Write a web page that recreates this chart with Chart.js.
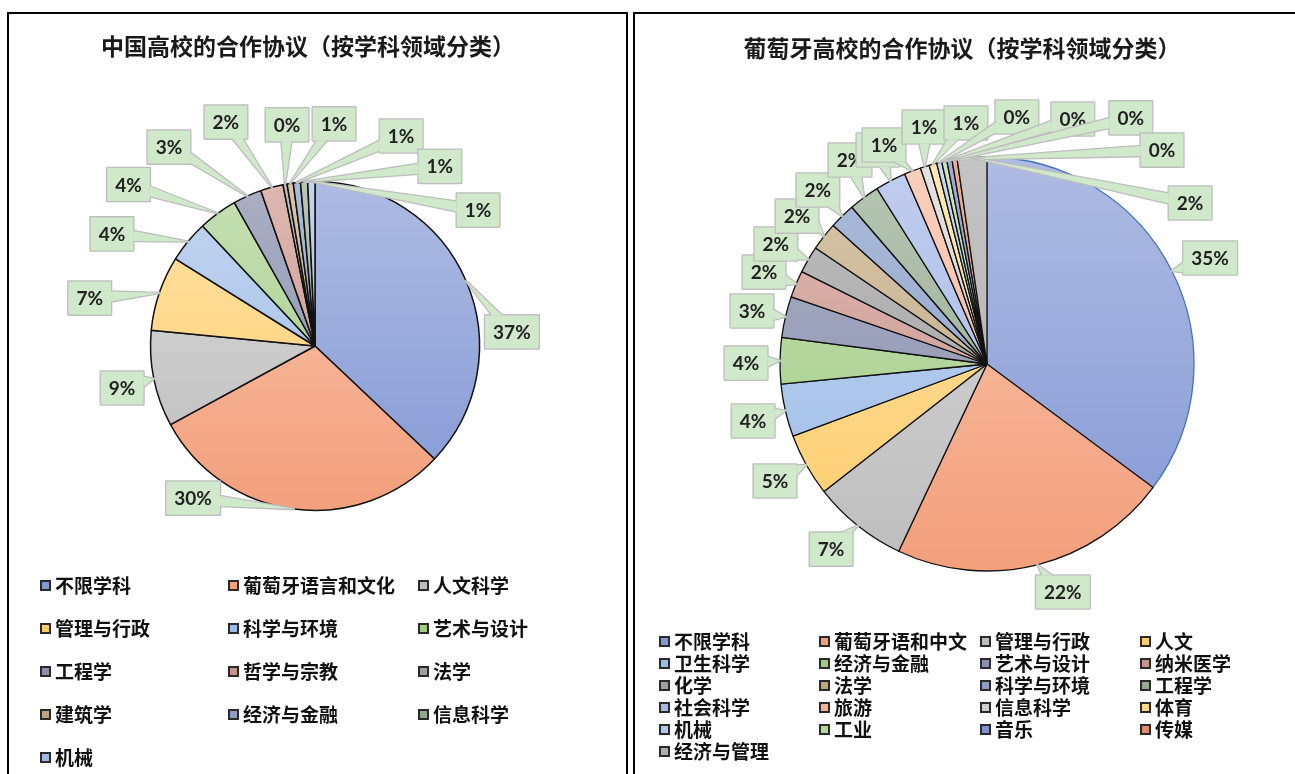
<!DOCTYPE html>
<html><head><meta charset="utf-8">
<script src="https://cdn.jsdelivr.net/npm/chart.js@4.4.1/dist/chart.umd.min.js"></script>
<style>
html,body{margin:0;padding:0;background:#fff;width:1295px;height:774px;overflow:hidden;position:relative;}
.panel{position:absolute;border:2.5px solid #000;box-sizing:border-box;background:#fff;}
.title{position:absolute;white-space:nowrap;font-family:"Noto Sans CJK SC";font-weight:700;font-size:23px;color:#1a1a1a;transform:translate(-50%,-50%);}
.li{position:absolute;white-space:nowrap;display:flex;align-items:center;transform:translateY(-50%);font-family:"Noto Sans CJK SC";font-weight:700;font-size:19px;color:#111;line-height:22px;}
.sw{width:7px;height:7px;border:2px solid #2a2a2a;margin-right:4px;flex:none;}
canvas{position:absolute;}
</style></head><body>
<div class="panel" style="left:7px;top:12px;width:621px;height:800px"></div>
<div class="panel" style="left:633px;top:12px;width:700px;height:800px"></div>
<canvas id="c1" width="616" height="759" style="left:10px;top:15px"></canvas>
<canvas id="c2" width="659" height="759" style="left:636px;top:15px"></canvas>
<div class="title" id="t1" style="left:308px;top:45px"></div>
<div class="title" id="t2" style="left:962px;top:47px"></div>
<div id="leg1"></div><div id="leg2"></div>
<script>
// ---------- data ----------
const cnTitle = '中国高校的合作协议（按学科领域分类）';
const cnCategories = ['不限学科','葡萄牙语言和文化','人文科学','管理与行政','科学与环境','艺术与设计','工程学','哲学与宗教','法学','建筑学','经济与金融','信息科学','机械'];
const cnValues = [36.8, 29.8, 9.4, 7.3, 4.1, 3.8, 2.8, 2.2, 0.4, 0.6, 0.7, 0.7, 0.7];

const ptTitle = '葡萄牙高校的合作协议（按学科领域分类）';
const ptCategories = ['不限学科','葡萄牙语和中文','管理与行政','人文','卫生科学','经济与金融','艺术与设计','纳米医学','化学','法学','科学与环境','工程学','社会科学','旅游','信息科学','体育','机械','工业','音乐','传媒','经济与管理'];
const ptValues = [35.1, 21.8, 7.4, 4.9, 4.1, 3.6, 3.2, 2.1, 2.1, 2.2, 2.0, 2.4, 2.4, 1.3, 0.7, 0.6, 0.4, 0.4, 0.4, 0.4, 2.3];

// ---------- styles ----------
const cnLight = ['#AEBBE2','#F8C6AF','#DADADA','#FFE2A6','#C2D5EF','#C6E0B4','#AAAFC5','#DDB8B0','#BEBEBE','#D7C6AA','#ABBBD9','#B6C6B3','#C6D3EF'];
const cnDark  = ['#8399D6','#F39F7B','#BDBDBD','#FECD6C','#9CBCE8','#A0CB83','#8990AD','#C8938A','#9E9E9E','#BEA680','#8A9FC8','#92A98F','#A4B8E6'];
const ptLight = ['#AEBBE2','#F8C6AF','#DADADA','#FFE2A6','#C2D5EF','#C6E0B4','#AAAFC5','#DDB8B0','#BEBEBE','#D7C6AA','#ABBBD9','#B6C6B3','#C0CDEF','#FAD0BC','#E2E2E2','#FFE7B3','#C9DAF2','#CDE5BD','#9EAEDB','#EDAE92','#C4C4C4'];
const ptDark  = ['#8399D6','#F39F7B','#BDBDBD','#FECD6C','#9CBCE8','#A0CB83','#8990AD','#C8938A','#9E9E9E','#BEA680','#8A9FC8','#92A98F','#A6B8E6','#F5B398','#CFCFCF','#FFD98A','#AFC9EE','#B4D89C','#7E93CE','#E08C6C','#ADADAD'];

// label placement: [direction in degrees clockwise from top, distance as multiple of radius]
const cnLabelPos = [[85.9,1.20],[218.7,1.185],[257.7,1.20],[282,1.40],[298.9,1.41],[310.9,1.50],[323.7,1.50],[338.3,1.465],[352.8,1.355],[4.9,1.355],[22.3,1.38],[34.8,1.33],[50.2,1.29]];
const ptLabelPos = [[64.6,1.193],[161.6,1.161],[220.1,1.169],[241.1,1.17],[256.3,1.163],[270.2,1.164],[282.7,1.164],[292.4,1.165],[299.6,1.173],[307.9,1.163],[315.8,1.172],[326.1,1.187],[333,1.16],[334.8,1.169],[345.1,1.185],[355,1.169],[6.9,1.202],[19.3,1.254],[30.3,1.377],[39.3,1.335],[51.6,1.252]];

function gradFill(light, dark, radius){
  const cache = {};
  return (ctx) => {
    const chart = ctx.chart, ca = chart.chartArea, i = ctx.dataIndex;
    if (!ca || i === undefined) return dark[i||0];
    const cy = (ca.top + ca.bottom)/2;
    const key = i + ':' + cy;
    if (!cache[key]) {
      const g = chart.ctx.createLinearGradient(0, cy - radius, 0, cy + radius);
      g.addColorStop(0, light[i]); g.addColorStop(1, dark[i]);
      cache[key] = g;
    }
    return cache[key];
  };
}

const calloutPlugin = {
  id: 'callouts',
  afterDatasetsDraw(chart, args, opts) {
    const ctx = chart.ctx;
    const meta = chart.getDatasetMeta(0);
    const data = chart.data.datasets[0].data;
    const total = data.reduce((a,b)=>a+b,0);
    ctx.save();
    ctx.font = opts.font;
    ctx.textAlign = 'center'; ctx.textBaseline = 'middle';
    meta.data.forEach((arc, i) => {
      const p = arc.getProps(['x','y','startAngle','endAngle','outerRadius'], true);
      const mid = (p.startAngle + p.endAngle)/2;
      const ax = p.x + Math.cos(mid)*p.outerRadius, ay = p.y + Math.sin(mid)*p.outerRadius;
      const [deg, f] = opts.positions[i];
      const th = (deg - 90)*Math.PI/180;
      const lx = p.x + Math.cos(th)*p.outerRadius*f, ly = p.y + Math.sin(th)*p.outerRadius*f;
      const text = Math.round(data[i]/total*100) + '%';
      const w = ctx.measureText(text).width + opts.padX*2, h = opts.boxH;
      const bx = lx - w/2, by = ly - h/2;
      const dx = ax - lx, dy = ay - ly;
      let b1 = null, b2 = null;
      const inside = Math.abs(dx) < w/2 && Math.abs(dy) < h/2;
      if (!inside) {
        const t = Math.min(Math.abs(dx) > 0 ? (w/2)/Math.abs(dx) : 1e9, Math.abs(dy) > 0 ? (h/2)/Math.abs(dy) : 1e9);
        const px = lx + dx*t, py = ly + dy*t, hb = opts.base;
        if (Math.abs(dx)*(h/2) >= Math.abs(dy)*(w/2)) {
          const c = Math.max(by + hb + 1, Math.min(by + h - hb - 1, py));
          b1 = [px, c - hb]; b2 = [px, c + hb];
        } else {
          const c = Math.max(bx + hb + 1, Math.min(bx + w - hb - 1, px));
          b1 = [c - hb, py]; b2 = [c + hb, py];
        }
      }
      const wedge = () => { ctx.beginPath(); ctx.moveTo(b1[0], b1[1]); ctx.lineTo(ax, ay); ctx.lineTo(b2[0], b2[1]); ctx.closePath(); };
      ctx.lineJoin = 'round';
      ctx.strokeStyle = opts.stroke; ctx.lineWidth = opts.lineWidth;
      ctx.strokeRect(bx, by, w, h);
      if (b1) { wedge(); ctx.stroke(); }
      ctx.fillStyle = opts.fill;
      if (b1) { wedge(); ctx.fill(); }
      ctx.fillRect(bx, by, w, h);
      ctx.fillStyle = opts.color;
      ctx.fillText(text, lx, ly + 1);
    });
    ctx.restore();
  }
};

function makeChart(id, cats, vals, light, dark, radius, cx, cy, positions, borderColors, bw) {
  const cv = document.getElementById(id);
  const W = cv.width, H = cv.height;
  const pad = {
    left: 2*cx > W ? 2*cx - W : 0, right: 2*cx > W ? 0 : W - 2*cx,
    top: 2*cy > H ? 2*cy - H : 0, bottom: 2*cy > H ? 0 : H - 2*cy
  };
  return new Chart(cv, {
    type: 'pie',
    data: { labels: cats, datasets: [{ data: vals, backgroundColor: gradFill(light, dark, radius), borderColor: borderColors, borderWidth: bw }] },
    options: {
      responsive: false, animation: false, events: [], radius: radius,
      layout: { padding: pad },
      plugins: {
        legend: { display: false }, tooltip: { enabled: false },
        callouts: { positions, font: 'bold 19px Lato', padX: 8, boxH: 33, base: 5, stroke: '#BDBDBD', fill: '#D0E9CB', color: '#222', lineWidth: 2.6 }
      }
    },
    plugins: [calloutPlugin]
  });
}

makeChart('c1', cnCategories, cnValues, cnLight, cnDark, 164.5, 305, 331, cnLabelPos, cnCategories.map(()=> '#111'), 1.5);
makeChart('c2', ptCategories, ptValues, ptLight, ptDark, 207, 351, 349, ptLabelPos, ptCategories.map((c,i)=> i===0 ? '#4472C4' : '#111'), 1.3);

document.getElementById('t1').textContent = cnTitle;
document.getElementById('t2').textContent = ptTitle;

function buildLegend(el, cats, colors, colX, rowY) {
  const host = document.getElementById(el);
  cats.forEach((c, i) => {
    const col = i % colX.length, row = Math.floor(i / colX.length);
    const d = document.createElement('div');
    d.className = 'li';
    d.style.left = colX[col] + 'px'; d.style.top = rowY[row] + 'px';
    const s = document.createElement('span'); s.className = 'sw'; s.style.background = colors[i];
    d.appendChild(s); d.appendChild(document.createTextNode(c));
    host.appendChild(d);
  });
}
buildLegend('leg1', cnCategories, cnDark, [40,228,418], [585,628,671,714,757]);
buildLegend('leg2', ptCategories, ptDark, [659,819,980,1140], [641,663,685,707,729,751]);
</script>
</body></html>
